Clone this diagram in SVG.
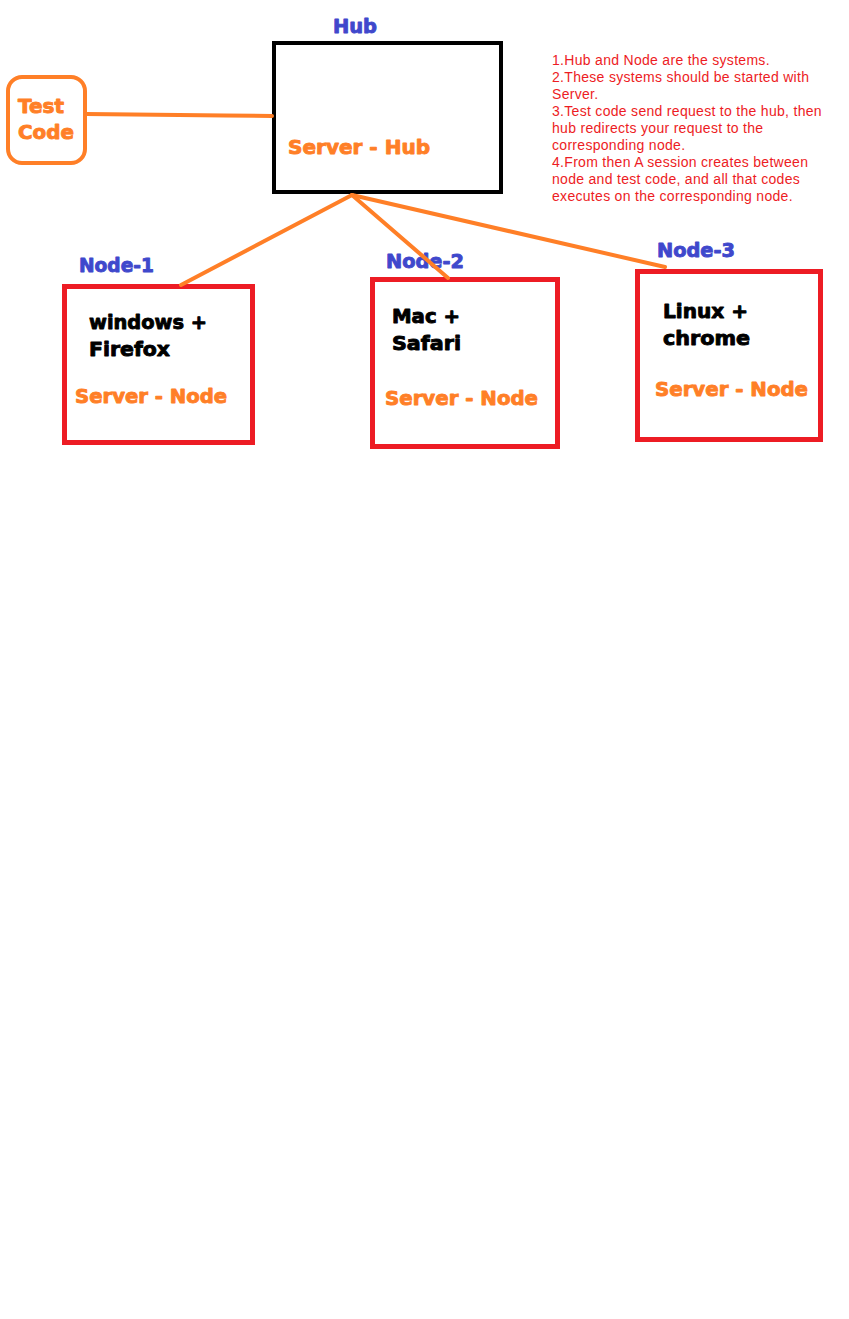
<svg xmlns="http://www.w3.org/2000/svg" width="849" height="1319" viewBox="0 0 849 1319">
<style>
.b{font-family:"DejaVu Sans","Liberation Sans",sans-serif;font-weight:bold;font-size:19px;stroke-width:0.9;stroke-linejoin:round}
.blue{fill:#3f48cc;stroke:#3f48cc}
.org{fill:#ff7f27;stroke:#ff7f27}
.blk{fill:#000;stroke:#000}
.note{font-family:"Liberation Sans",Arial,sans-serif;font-size:14px;letter-spacing:0.3px;fill:#ed1c24}
.conn{stroke:#ff7f27;stroke-width:4;fill:none;stroke-linecap:round}
.node{fill:#fff;stroke:#ed1c24;stroke-width:5}
</style>
<rect width="849" height="1319" fill="#fff"/>
<g id="test-code">
<rect x="8" y="77" width="77" height="86" rx="14" fill="#fff" stroke="#ff7f27" stroke-width="4"/>
<text class="b org" x="18" y="113" textLength="46" lengthAdjust="spacingAndGlyphs">Test</text>
<text class="b org" x="18" y="139" textLength="56" lengthAdjust="spacingAndGlyphs">Code</text>
</g>
<g id="hub">
<text class="b blue" x="333" y="33" textLength="44" lengthAdjust="spacingAndGlyphs">Hub</text>
<rect x="274" y="43" width="227" height="149" fill="none" stroke="#000" stroke-width="4"/>
<text class="b org" x="288" y="154" textLength="142" lengthAdjust="spacingAndGlyphs">Server - Hub</text>
</g>
<g id="notes">
<text class="note" x="552" y="65">1.Hub and Node are the systems.</text>
<text class="note" x="552" y="82">2.These systems should be started with</text>
<text class="note" x="552" y="99">Server.</text>
<text class="note" x="552" y="116">3.Test code send request to the hub, then</text>
<text class="note" x="552" y="133">hub redirects your request to the</text>
<text class="note" x="552" y="150">corresponding node.</text>
<text class="note" x="552" y="167">4.From then A session creates between</text>
<text class="note" x="552" y="184">node and test code, and all that codes</text>
<text class="note" x="552" y="201">executes on the corresponding node.</text>
</g>
<g id="node-1">
<text class="b blue" x="79" y="272" textLength="75" lengthAdjust="spacingAndGlyphs">Node-1</text>
<rect class="node" x="64.5" y="286.5" width="188" height="156"/>
<text class="b blk" x="89" y="329" textLength="118" lengthAdjust="spacingAndGlyphs">windows +</text>
<text class="b blk" x="89" y="356" textLength="81" lengthAdjust="spacingAndGlyphs">Firefox</text>
<text class="b org" x="75" y="403" textLength="152" lengthAdjust="spacingAndGlyphs">Server - Node</text>
</g>
<g id="node-2">
<rect class="node" x="372.5" y="279.5" width="185" height="167"/>
<text class="b blue" x="386" y="268" textLength="78" lengthAdjust="spacingAndGlyphs">Node-2</text>
<text class="b blk" x="392" y="323" textLength="68" lengthAdjust="spacingAndGlyphs">Mac +</text>
<text class="b blk" x="392" y="350" textLength="69" lengthAdjust="spacingAndGlyphs">Safari</text>
<text class="b org" x="385" y="405" textLength="153" lengthAdjust="spacingAndGlyphs">Server - Node</text>
</g>
<g id="node-3">
<text class="b blue" x="657" y="257" textLength="78" lengthAdjust="spacingAndGlyphs">Node-3</text>
<rect class="node" x="637.5" y="271.5" width="183" height="168"/>
<text class="b blk" x="663" y="318" textLength="85" lengthAdjust="spacingAndGlyphs">Linux +</text>
<text class="b blk" x="663" y="345" textLength="87" lengthAdjust="spacingAndGlyphs">chrome</text>
<text class="b org" x="655" y="396" textLength="153" lengthAdjust="spacingAndGlyphs">Server - Node</text>
</g>
<g id="connectors">
<polyline class="conn" points="86,114 133,114.5 225,115.5 272,116"/>
<line class="conn" x1="352" y1="195" x2="181" y2="285"/>
<line class="conn" x1="352" y1="195" x2="448" y2="278"/>
<line class="conn" x1="352" y1="195" x2="665" y2="267"/>
</g>
</svg>
